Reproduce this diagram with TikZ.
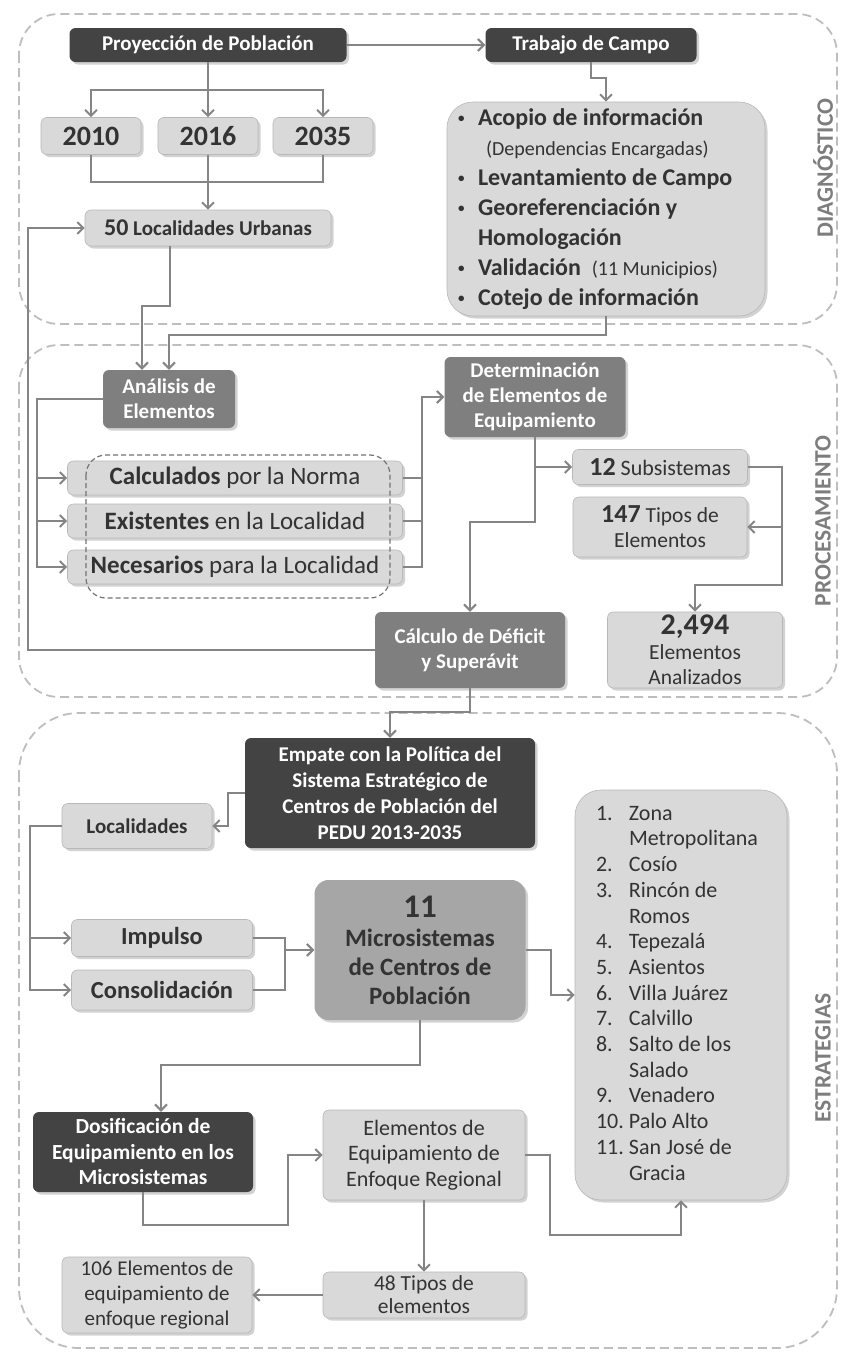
\documentclass[tikz,border=0pt]{standalone}
\usepackage{fontspec}
\setmainfont{Carlito}
\usetikzlibrary{arrows.meta,shadows}

\newcommand{\fsz}[2]{\fontsize{#1}{#2}\selectfont}
\newcommand{\dotitem}{\raisebox{3pt}{\fsz{13}{13}\textbullet}}

\definecolor{boxdark}{HTML}{434343}
\definecolor{boxmid}{HTML}{7F7F7F}
\definecolor{boxsoft}{HTML}{A6A6A6}
\definecolor{boxlight}{HTML}{D9D9D9}
\definecolor{boxtext}{HTML}{333333}
\definecolor{wire}{HTML}{858585}
\definecolor{frameline}{HTML}{BEBEBE}
\definecolor{labelgray}{HTML}{7D7D7D}

\tikzset{
  base/.style={rounded corners=6pt, inner sep=2pt, align=center,
    drop shadow={shadow xshift=2.5pt, shadow yshift=-2.5pt, opacity=0.35}},
  darkbox/.style={base, fill=boxdark, text=white, font=\bfseries\fsz{21}{25}},
  midbox/.style={base, fill=boxmid, text=white, font=\bfseries\fsz{21}{25}},
  lightbox/.style={base, fill=boxlight, draw=boxlight!85!black, line width=0.6pt, text=boxtext},
  yearbox/.style={lightbox, minimum width=100pt, minimum height=37pt, font=\bfseries\fsz{28}{30}},
  rowbox/.style={lightbox, minimum width=335pt, minimum height=34pt, font=\fsz{25}{28}},
  wireline/.style={draw=wire, line width=2pt},
  wirearrow/.style={wireline, -{Straight Barb[length=6pt,width=12pt]}},
  section/.style={draw=frameline, line width=1.8pt, dash pattern=on 9pt off 5pt, rounded corners=40pt},
  groupline/.style={draw=black!55, line width=1.2pt, dash pattern=on 5pt off 3pt, rounded corners=20pt},
  sectionlabel/.style={rotate=90, text=labelgray, font=\bfseries\fsz{23.5}{26}},
}

\begin{document}
\begin{tikzpicture}[x=1pt,y=-1pt]
\useasboundingbox[fill=white] (0,0) rectangle (843,1352);

% frames
\draw[section] (19,14) rectangle (837,324);
\draw[section] (19,345) rectangle (837,697);
\draw[section, rounded corners=60pt] (19,713) rectangle (837,1348);
\node[sectionlabel] (labdiag) at (823,168) {DIAGNÓSTICO};
\node[sectionlabel] (labproc) at (823,521) {PROCESAMIENTO};
\node[sectionlabel] (labestr) at (823,1058) {ESTRATEGIAS};

% diagnostico
\node[darkbox, minimum width=277pt, minimum height=34pt] (proy) at (208,45) {Proyección de Población};
\node[darkbox, minimum width=211pt, minimum height=34pt] (campo) at (591,45) {Trabajo de Campo};
\node[yearbox] (y2010) at (91,136) {2010};
\node[yearbox] (y2016) at (208,136) {2016};
\node[yearbox] (y2035) at (323,136) {2035};
\node[lightbox, minimum width=246pt, minimum height=36pt, font=\bfseries\fsz{21}{28}] (loc50) at (208,228)
  {{\fsz{24}{28}50} Localidades Urbanas};
\node[lightbox, rounded corners=26pt, minimum height=212pt, text width=296pt, inner xsep=11pt,
  align=flush left, font=\bfseries\fsz{24}{30}] (acopio) at (606,209)
  {\begin{tabular}{@{}p{20pt}@{}l@{}}
   \dotitem & Acopio de información\\
   & \hspace{8pt}{\mdseries\fsz{20}{30}(Dependencias Encargadas)}\\
   \dotitem & Levantamiento de Campo\\
   \dotitem & Georeferenciación y\\
   & Homologación\\
   \dotitem & Validación\ \ {\mdseries\fsz{20}{30}(11 Municipios)}\\
   \dotitem & Cotejo de información
   \end{tabular}};

% procesamiento
\node[midbox, minimum width=132pt, minimum height=58pt] (analisis) at (169,399) {Análisis de\\Elementos};
\node[midbox, minimum width=181pt, minimum height=80pt] (determ) at (535,397)
  {Determinación\\de Elementos de\\Equipamiento};
\node[rowbox] (calc) at (235,478) {\textbf{Calculados} por la Norma};
\node[rowbox] (exist) at (235,521) {\textbf{Existentes} en la Localidad};
\node[rowbox] (neces) at (235,567) {\textbf{Necesarios} para la Localidad};
\draw[groupline] (86,455) rectangle (390,598);
\node[lightbox, minimum width=175pt, minimum height=35pt, font=\fsz{22}{28}] (sub12) at (660,467)
  {{\bfseries\fsz{26}{28}12} Subsistemas};
\node[lightbox, minimum width=174pt, minimum height=60pt, font=\fsz{21.5}{25}] (tipos147) at (660,527)
  {{\bfseries\fsz{26}{25}147} Tipos de\\Elementos};
\node[lightbox, minimum width=175pt, minimum height=76pt, font=\fsz{21.5}{25}] (total) at (695,650)
  {{\bfseries\fsz{30}{26}2,494}\\Elementos\\Analizados};
\node[midbox, minimum width=190pt, minimum height=76pt, font=\bfseries\fsz{21}{25}] (deficit) at (470,650)
  {Cálculo de Déficit\\y Superávit};

% estrategias
\node[darkbox, minimum width=290pt, minimum height=110pt, font=\bfseries\fsz{21}{26}] (empate) at (390,793)
  {Empate con la Política del\\Sistema Estratégico de\\Centros de Población del\\PEDU 2013-2035};
\node[lightbox, minimum width=150pt, minimum height=45pt, font=\bfseries\fsz{21}{25}] (locs) at (137,826) {Localidades};
\node[lightbox, minimum width=181pt, minimum height=37pt, font=\bfseries\fsz{24.5}{28}] (impulso) at (162,938) {Impulso};
\node[lightbox, minimum width=181pt, minimum height=40pt, font=\bfseries\fsz{24.5}{28}] (consol) at (162,990) {Consolidación};
\node[base, fill=boxsoft, text=boxtext, rounded corners=14pt, minimum width=211pt, minimum height=140pt,
  font=\bfseries\fsz{25}{29}] (micro) at (420,950)
  {{\fsz{33}{34}11}\\Microsistemas\\de Centros de\\Población};
\node[lightbox, rounded corners=26pt, minimum width=212pt, minimum height=410pt, text width=170pt,
  inner xsep=21pt, align=flush left, font=\fsz{22}{25.7}] (lista) at (681,995)
  {\begin{tabular}{@{}p{33pt}@{}l@{}}
   1. & Zona\\ & Metropolitana\\
   2. & Cosío\\
   3. & Rincón de\\ & Romos\\
   4. & Tepezalá\\
   5. & Asientos\\
   6. & Villa Juárez\\
   7. & Calvillo\\
   8. & Salto de los\\ & Salado\\
   9. & Venadero\\
   10. & Palo Alto\\
   11. & San José de\\ & Gracia
   \end{tabular}};
\node[darkbox, minimum width=220pt, minimum height=80pt, font=\bfseries\fsz{21.5}{25.5}] (dosif) at (143,1152)
  {Dosificación de\\Equipamiento en los\\Microsistemas};
\node[lightbox, minimum width=202pt, minimum height=90pt, font=\fsz{22}{25.5}] (regional) at (424,1155)
  {Elementos de\\Equipamiento de\\Enfoque Regional};
\node[lightbox, minimum width=202pt, minimum height=46pt, font=\fsz{21.5}{23}] (tipos48) at (424,1295)
  {48 Tipos de\\elementos};
\node[lightbox, minimum width=190pt, minimum height=76pt, font=\fsz{21}{25}] (elem106) at (157,1295)
  {106 Elementos de\\equipamiento de\\enfoque regional};

% connectors
\draw[wirearrow] (proy.east) -- (campo.west);
\draw[wirearrow] (proy.south) -- ++(0,28) -| (y2010.north);
\draw[wirearrow] (proy.south) -- ++(0,28) -| (y2035.north);
\draw[wirearrow] (proy.south) -- (y2016.north);
\draw[wireline] (y2010.south) -- ++(0,27) -| (y2035.south);
\draw[wirearrow] (y2016.south) -- (loc50.north);
\draw[wirearrow] (campo.south) -- ++(0,16) -| (acopio.north);
\draw[wirearrow] ([xshift=-38pt]loc50.south) -- ++(0,60) -| ([xshift=-27pt]analisis.north);
\draw[wirearrow] (acopio.south) -- ++(0,19) -| (analisis.north);

\draw[wirearrow] (analisis.west) -- ++(-66,0) |- (calc.west);
\draw[wirearrow] (analisis.west) -- ++(-66,0) |- (exist.west);
\draw[wirearrow] (analisis.west) -- ++(-66,0) |- (neces.west);
\draw[wireline] (calc.east) -- ++(19,0);
\draw[wireline] (exist.east) -- ++(19,0);
\draw[wirearrow] (neces.east) -- ++(19,0) |- (determ.west);
\draw[wirearrow] (determ.south) -- ++(0,85) -| (deficit.north);
\draw[wirearrow] (determ.south |- sub12.west) -- (sub12.west);
\draw[wirearrow] (sub12.east) -- ++(34,0) |- (tipos147.east);
\draw[wirearrow] (sub12.east) -- ++(34,0) -- ++(0,118) -| (total.north);
\draw[wirearrow] (deficit.west) -- ++(-347,0) |- (loc50.west);
\draw[wirearrow] (deficit.south) -- ++(0,24) -| (empate.north);

\draw[wirearrow] (empate.west) -- ++(-17,0) |- (locs.east);
\draw[wirearrow] (locs.west) -- ++(-32,0) |- (impulso.west);
\draw[wirearrow] (locs.west) -- ++(-32,0) |- (consol.west);
\draw[wireline] (impulso.east) -- ++(32,0) coordinate (mbus) |- (consol.east);
\draw[wirearrow] (mbus |- micro.west) -- (micro.west);
\draw[wirearrow] (micro.east) -- ++(25,0) |- (lista.west);
\draw[wirearrow] (micro.south) -- ++(0,45) -| ([xshift=18pt]dosif.north);
\draw[wirearrow] (dosif.south) -- ++(0,33) -| ([xshift=-35pt]regional.west) -- (regional.west);
\draw[wirearrow] (regional.east) -- ++(25,0) |- ([yshift=-35pt]lista.south) -- (lista.south);
\draw[wirearrow] (regional.south) -- (tipos48.north);
\draw[wirearrow] (tipos48.west) -- (elem106.east);
\end{tikzpicture}
\end{document}
